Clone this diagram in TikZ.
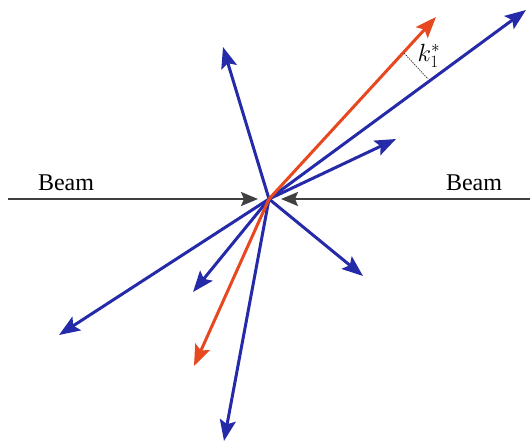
\documentclass[tikz,border=0pt]{standalone}
\usepackage{fontspec}
\setmainfont{Liberation Serif}
\usetikzlibrary{arrows.meta}
\definecolor{pblue}{RGB}{36,42,168}
\definecolor{pred}{RGB}{232,72,32}
\definecolor{pgray}{RGB}{64,64,64}
\tikzset{
  track/.style={line width=3pt, -{Stealth[length=21pt,width=16pt,inset=4pt]}},
  bluetrack/.style={track, draw=pblue, fill=pblue},
  redtrack/.style={track, draw=pred, fill=pred},
  beamline/.style={line width=2pt, draw=pgray, -{Stealth[length=17pt,width=14pt,inset=3pt]}},
  beamlabel/.style={font=\fontsize{24}{28}\selectfont, text=black, inner sep=0pt},
}
\begin{document}
\begin{tikzpicture}[x=1pt,y=-1pt]
\useasboundingbox (0,0) rectangle (530,442);
\coordinate (o) at (269,199);
\coordinate (bl) at (8,199);
\coordinate (br) at (530,199);
\coordinate (btl) at (258,199);
\coordinate (btr) at (281,199);
% beams
\draw[beamline] (bl) -- (btl);
\draw[beamline] (br) -- (btr);
\node[beamlabel] (beamL) at (66,183) {Beam};
\node[beamlabel] (beamR) at (474,183) {Beam};
% tips
\coordinate (t1) at (223,47);
\coordinate (t2) at (526,10);
\coordinate (t3) at (396,139);
\coordinate (t4) at (363,276);
\coordinate (t5) at (193,292);
\coordinate (t6) at (59,335);
\coordinate (t7) at (224,441);
\coordinate (r1) at (436,17);
\coordinate (r2) at (194,366);
% blue tracks
\draw[bluetrack] (o) -- (t1);
\draw[bluetrack] (o) -- (t2);
\draw[bluetrack] (o) -- (t3);
\draw[bluetrack] (o) -- (t4);
\draw[bluetrack] (o) -- (t5);
\draw[bluetrack] (o) -- (t6);
\draw[bluetrack] (o) -- (t7);
% red tracks
\draw[redtrack] (o) -- (r1);
\draw[redtrack] (o) -- (r2);
% k1* marker
\coordinate (ka) at (404,53);
\coordinate (kb) at (428,79);
\draw[dash pattern=on 1.5pt off 1pt, line width=0.7pt, black!80] (ka) -- (kb);
\node[inner sep=0pt] (k) at (429,56) {\fontsize{26}{30}\selectfont $k_1^*$};
\end{tikzpicture}
\end{document}
